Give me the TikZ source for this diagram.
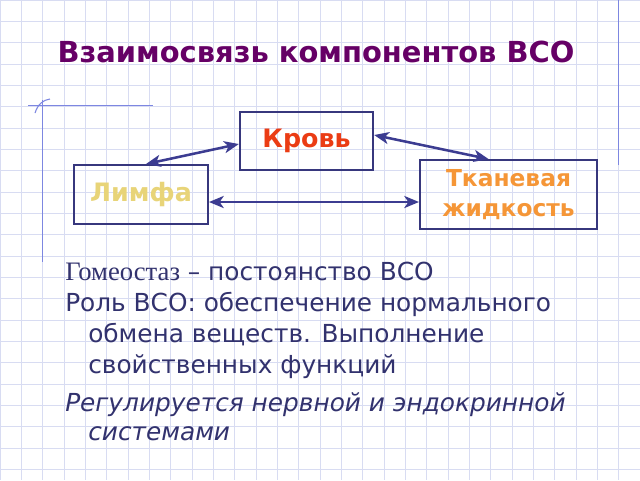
\documentclass[tikz,border=0pt]{standalone}
\usepackage{fontspec}
\setmainfont{DejaVu Sans}
\newfontfamily\gomfont{Liberation Serif}
\usetikzlibrary{calc,arrows.meta}
\definecolor{gridblue}{RGB}{216,220,242}
\definecolor{lineblue}{RGB}{125,135,225}
\definecolor{titlepurple}{RGB}{102,0,102}
\definecolor{boxnavy}{RGB}{55,55,125}
\definecolor{arrownavy}{RGB}{60,60,145}
\definecolor{krovred}{RGB}{235,60,20}
\definecolor{limfayellow}{RGB}{232,212,120}
\definecolor{tkanorange}{RGB}{245,150,55}
\definecolor{textnavy}{RGB}{50,50,110}
\begin{document}
\begin{tikzpicture}[x=0.75pt,y=-0.75pt,
    box/.style={draw=boxnavy,line width=1.5pt,inner sep=0pt,align=center,
      font=\fontsize{19}{22.5}\selectfont\bfseries},
    link/.style={arrownavy,line width=1.9pt,
      {Stealth[length=11pt,width=9pt,inset=3pt]}-{Stealth[length=11pt,width=9pt,inset=3pt]}},
    bodytext/.style={anchor=base west,inner sep=0pt,text=textnavy,
      font=\fontsize{18.6}{22}\selectfont}]
  % paper
  \fill[white] (0,0) rectangle (640,480);
  \useasboundingbox (0,0) rectangle (640,480);
  \foreach \i in {0,...,30}
    \draw[gridblue,line width=0.5pt] (\i*21.333,0) -- (\i*21.333,480);
  \foreach \j in {0,...,22}
    \draw[gridblue,line width=0.5pt] (0,\j*21.333) -- (640,\j*21.333);
  % margin lines
  \draw[lineblue,line width=0.8pt] (42.67,100) -- (42.67,262);
  \draw[lineblue,line width=0.8pt] (28,105.7) -- (153,105.7);
  \draw[lineblue,line width=0.8pt] (35,113) .. controls (38,104) and (43,100) .. (50,99);
  \draw[lineblue,line width=0.8pt] (618.67,0) -- (618.67,165);
  % title
  \node[anchor=base,inner sep=0pt,text=titlepurple,
    font=\fontsize{21.7}{26}\selectfont\bfseries] (title) at (316,62)
    {Взаимосвязь компонентов ВСО};
  % boxes
  \node[box,minimum width=100pt,minimum height=43.5pt,text=krovred]
    (krov) at (306.5,141) {Кровь};
  \node[box,minimum width=100.5pt,minimum height=44.25pt,text=limfayellow]
    (limfa) at (141,194.5) {Лимфа};
  \node[box,minimum width=132.75pt,minimum height=51.75pt,text=tkanorange,
    font=\fontsize{17.5}{22.5}\selectfont\bfseries]
    (tkan) at (508.5,194.5) {Тканевая\\жидкость};
  \begin{scope}[link]
    \draw ($(limfa.north)+(5,0)$) -- ($(krov.west)+(0,3)$);
    \draw ($(krov.east)+(0,-6)$) -- ($(tkan.north)+(-20,0)$);
    \draw ($(limfa.east)+(0,7.5)$) -- ($(tkan.west)+(0,7.5)$);
  \end{scope}
  % text
  \node[bodytext] (line1) at (65,280)
    {{\gomfont\fontsize{20}{22}\selectfont Гомеостаз} – постоянство ВСО};
  \node[bodytext] (line2) at (65,311) {Роль ВСО: обеспечение нормального};
  \node[bodytext] (line3) at (88,342) {обмена веществ. Выполнение};
  \node[bodytext] (line4) at (88,373) {свойственных функций};
  \node[bodytext,font=\fontsize{18.6}{22}\selectfont\itshape] (line5) at (65,411)
    {Регулируется нервной и эндокринной};
  \node[bodytext,font=\fontsize{18.6}{22}\selectfont\itshape] (line6) at (88,440)
    {системами};
\end{tikzpicture}
\end{document}
